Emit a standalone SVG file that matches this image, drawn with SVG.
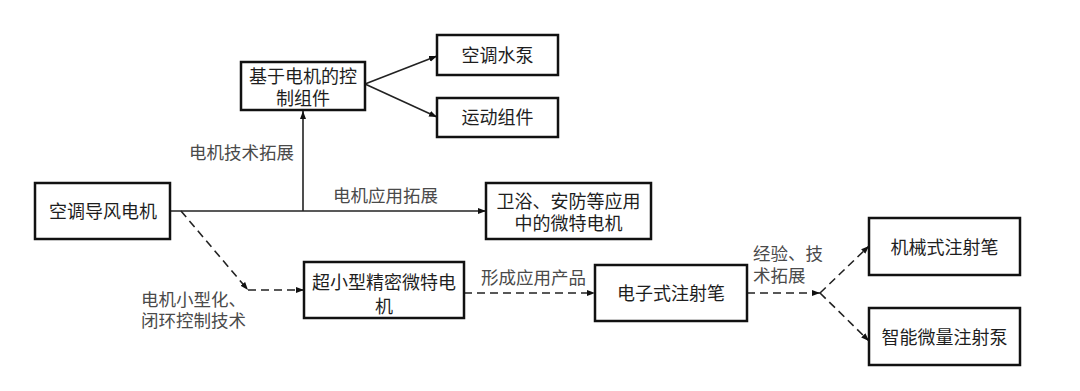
<svg xmlns="http://www.w3.org/2000/svg" width="1080" height="391" viewBox="0 0 1080 391">
<style>
.box{fill:#fff;stroke:#111;stroke-width:2.5}
.nt{font-family:"Liberation Sans","Noto Sans CJK SC",sans-serif;font-size:18px;fill:#1e1e1e;text-anchor:middle}
.lb{font-family:"Liberation Sans","Noto Sans CJK SC",sans-serif;font-size:17.5px;fill:#4a4a4a}
.ln{fill:none;stroke:#222;stroke-width:1.6}
.dl{fill:none;stroke:#222;stroke-width:1.6;stroke-dasharray:8 5}
</style>
<defs>
<marker id="ah" markerUnits="userSpaceOnUse" markerWidth="8" markerHeight="8" viewBox="0 0 8 8" refX="8" refY="4" orient="auto">
<path d="M0,1 L8,4 L0,7 Z" fill="#111"/>
</marker>
</defs>
<rect width="1080" height="391" fill="#fff"/>
<g id="connectors">
<path class="ln" d="M170,211 H486" marker-end="url(#ah)"/>
<path class="ln" d="M303,211 V111" marker-end="url(#ah)"/>
<path class="ln" d="M365,84 L437,56" marker-end="url(#ah)"/>
<path class="ln" d="M365,84 L437,117" marker-end="url(#ah)"/>
<path class="dl" d="M181,211 L248,290" marker-end="url(#ah)"/>
<path class="dl" d="M248,290 H304" marker-end="url(#ah)"/>
<path class="dl" d="M464,293 H595" marker-end="url(#ah)"/>
<path class="dl" d="M747,293 H820" marker-end="url(#ah)"/>
<path class="dl" d="M820,293 L869,246" marker-end="url(#ah)"/>
<path class="dl" d="M820,293 L869,341" marker-end="url(#ah)"/>
<text class="lb" x="189" y="159">电机技术拓展</text>
<text class="lb" x="333" y="202">电机应用拓展</text>
<text class="lb" x="141" y="306">电机小型化、</text>
<text class="lb" x="141" y="327">闭环控制技术</text>
<text class="lb" x="481" y="284">形成应用产品</text>
<text class="lb" x="753" y="260">经验、技</text>
<text class="lb" x="753" y="281.5">术拓展</text>
</g>
<g id="n1"><rect class="box" x="35" y="183" width="135" height="56"/><text class="nt" x="103" y="218">空调导风电机</text></g>
<g id="n2"><rect class="box" x="241" y="62" width="124" height="48"/><text class="nt" x="303" y="83">基于电机的控</text><text class="nt" x="303" y="105">制组件</text></g>
<g id="n3"><rect class="box" x="437" y="35" width="121" height="40"/><text class="nt" x="497.5" y="61.5">空调水泵</text></g>
<g id="n4"><rect class="box" x="437" y="98" width="121" height="39"/><text class="nt" x="497.5" y="124">运动组件</text></g>
<g id="n5"><rect class="box" x="486" y="183" width="165" height="56"/><text class="nt" x="568.5" y="208">卫浴、安防等应用</text><text class="nt" x="568.5" y="230">中的微特电机</text></g>
<g id="n6"><rect class="box" x="304" y="262" width="160" height="56"/><text class="nt" x="384" y="288.5">超小型精密微特电</text><text class="nt" x="384" y="313">机</text></g>
<g id="n7"><rect class="box" x="595" y="265" width="152" height="56"/><text class="nt" x="671" y="300">电子式注射笔</text></g>
<g id="n8"><rect class="box" x="869" y="218" width="151" height="57"/><text class="nt" x="944.5" y="254">机械式注射笔</text></g>
<g id="n9"><rect class="box" x="869" y="308" width="151" height="57"/><text class="nt" x="944.5" y="343.5">智能微量注射泵</text></g>
</svg>
